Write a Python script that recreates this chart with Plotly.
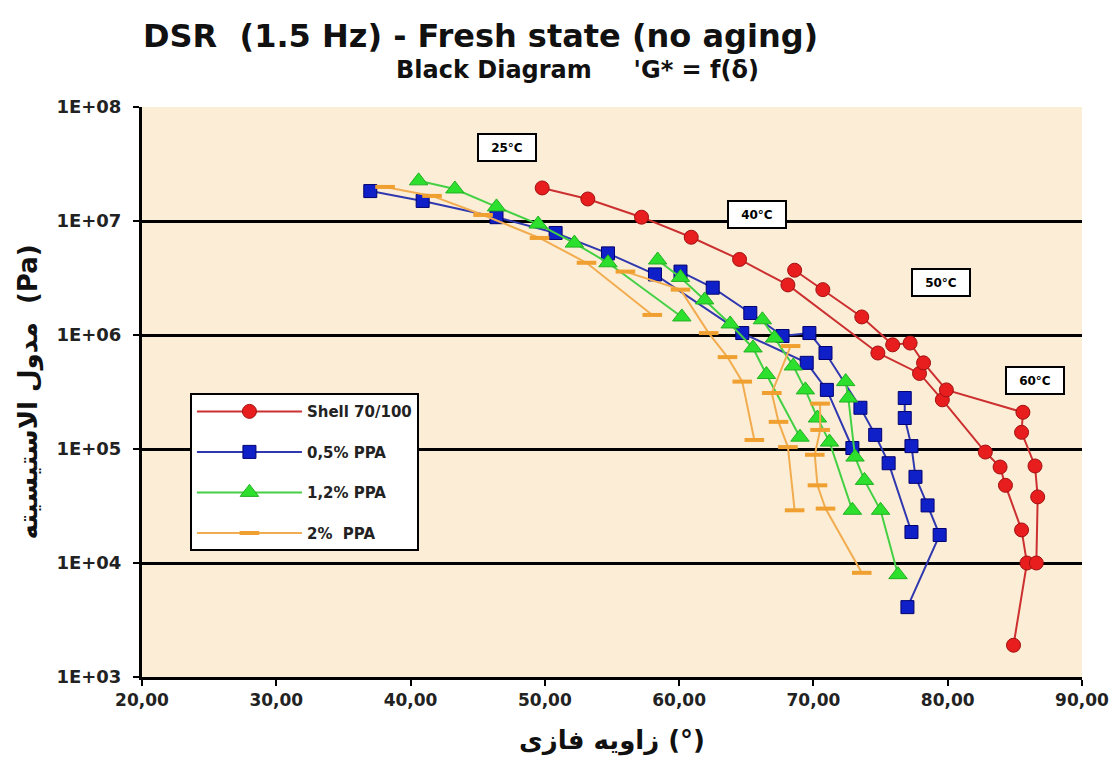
import math
import plotly.graph_objects as go

# Black diagram: phase angle (deg) vs complex modulus |G*| (Pa), one list per temperature branch
shell_phase = [
    [49.8, 53.2, 57.2, 60.9, 64.5, 68.1, 74.8, 77.9, 79.6, 82.8, 83.9, 84.3, 85.5, 85.9, 84.9],
    [68.6, 70.7, 73.6, 75.9, 77.2, 78.2, 79.9, 85.6, 85.5, 86.5, 86.7, 86.6],
]
shell_mod = [
    [1.95e7, 1.56e7, 1.08e7, 7.2e6, 4.6e6, 2.75e6, 6.95e5, 4.6e5, 2.7e5, 9.4e4, 6.95e4, 4.8e4, 1.95e4, 1.0e4, 1.9e3],
    [3.7e6, 2.5e6, 1.44e6, 8.2e5, 8.5e5, 5.7e5, 3.3e5, 2.1e5, 1.4e5, 7.1e4, 3.8e4, 1.0e4],
]

ppa05_phase = [
    [37.0, 40.9, 46.4, 50.8, 54.7, 58.2, 64.7, 69.5, 71.0, 72.9],
    [60.1, 62.5, 65.3, 67.7, 69.7, 70.9, 73.5, 74.6, 75.6, 77.3],
    [76.8, 76.8, 77.3, 77.6, 78.5, 79.4, 77.0],
]
ppa05_mod = [
    [1.83e7, 1.5e7, 1.08e7, 7.85e6, 5.2e6, 3.4e6, 1.04e6, 5.7e5, 3.3e5, 1.02e5],
    [3.6e6, 2.6e6, 1.56e6, 9.8e5, 1.04e6, 6.95e5, 2.3e5, 1.33e5, 7.5e4, 1.87e4],
    [2.8e5, 1.87e5, 1.06e5, 5.7e4, 3.2e4, 1.76e4, 4.1e3],
]

ppa12_phase = [
    [40.6, 43.3, 46.4, 49.5, 52.2, 54.7, 60.2],
    [58.4, 60.1, 61.9, 63.8, 65.5, 66.5, 69.0],
    [66.2, 67.1, 68.5, 69.4, 70.3, 71.2, 72.9],
    [72.4, 72.6, 73.1, 73.8, 75.0, 76.3],
]
ppa12_mod = [
    [2.25e7, 1.91e7, 1.33e7, 9.4e6, 6.4e6, 4.3e6, 1.44e6],
    [4.55e6, 3.2e6, 2.03e6, 1.25e6, 7.7e5, 4.5e5, 1.27e5],
    [1.36e6, 9.4e5, 5.35e5, 3.3e5, 1.87e5, 1.15e5, 2.9e4],
    [3.9e5, 2.8e5, 8.5e4, 5.3e4, 2.9e4, 7.9e3],
]

ppa2_phase = [
    [38.1, 41.6, 45.4, 49.6, 53.1, 58.0],
    [56.0, 60.1, 62.2, 63.6, 64.7, 65.6],
    [68.3, 66.9, 67.4, 68.1, 68.6],
    [70.5, 70.5, 70.1, 70.3, 70.9, 73.6],
]
ppa2_mod = [
    [1.99e7, 1.66e7, 1.13e7, 7.1e6, 4.3e6, 1.5e6],
    [3.6e6, 2.5e6, 1.04e6, 6.4e5, 3.9e5, 1.2e5],
    [8.0e5, 3.1e5, 1.73e5, 1.04e5, 2.9e4],
    [2.5e5, 1.47e5, 8.9e4, 4.8e4, 3.0e4, 8.2e3],
]

series_names = ["Shell 70/100", "0,5% PPA", "1,2% PPA", "2%  PPA"]

# Temperature labels placed on the diagram
temp_labels = ["25°C", "40°C", "50°C", "60°C"]
temp_phase = [47.2, 65.8, 79.5, 86.5]
temp_mod = [4.45e7, 1.13e7, 2.9e6, 4.0e5]

y_ticks = [1e3, 1e4, 1e5, 1e6, 1e7, 1e8]
y_ticktext = ["1E+03", "1E+04", "1E+05", "1E+06", "1E+07", "1E+08"]


def join_branches(branches):
    out = []
    for i, b in enumerate(branches):
        if i:
            out.append(None)
        out.extend(b)
    return out


styles = [
    dict(line=dict(color="#CC3030", width=2),
         marker=dict(symbol="circle", size=14, color="#E81E1E", line=dict(color="#A01010", width=1))),
    dict(line=dict(color="#3038B0", width=2),
         marker=dict(symbol="square", size=13, color="#1020C8", line=dict(color="#000070", width=1))),
    dict(line=dict(color="#44D044", width=2),
         marker=dict(symbol="triangle-up", size=16, color="#2EE02E", line=dict(color="#22B022", width=1))),
    dict(line=dict(color="#F2AC50", width=2),
         marker=dict(symbol="line-ew", size=14, color="#F0A030", line=dict(color="#F0A030", width=4))),
]

data = [
    (shell_phase, shell_mod),
    (ppa05_phase, ppa05_mod),
    (ppa12_phase, ppa12_mod),
    (ppa2_phase, ppa2_mod),
]

FONT = "DejaVu Sans"
BOLD = dict(family=FONT, weight="bold")

fig = go.Figure()
for i, ((px, py), name, st) in enumerate(zip(data, series_names, styles)):
    fig.add_trace(go.Scatter(
        x=join_branches(px), y=join_branches(py),
        mode="lines+markers", name=name, legendgroup=f"g{i}",
        connectgaps=False, line=st["line"], marker=st["marker"],
    ))

# Annotations on a log axis take log10 positions
for t, xv, yv in zip(temp_labels, temp_phase, temp_mod):
    fig.add_annotation(
        x=xv, y=math.log10(yv), xref="x", yref="y", yanchor="middle", text=t, showarrow=False,
        font=dict(**BOLD, size=12, color="black"),
        bgcolor="white", bordercolor="black", borderwidth=2,
        width=54, height=23,
    )

fig.add_annotation(
    x=0.36, y=1.0, xref="paper", yref="paper", yanchor="bottom", yshift=50,
    text="DSR  (1.5 Hz) - Fresh state (no aging)", showarrow=False,
    font=dict(**BOLD, size=32, color="#111"),
)
fig.add_annotation(
    x=0.463, y=1.0, xref="paper", yref="paper", yanchor="bottom", yshift=21,
    text="Black Diagram     'G* = f(δ)", showarrow=False,
    font=dict(**BOLD, size=24, color="#111"),
)

fig.update_layout(
    width=1113, height=778,
    margin=dict(l=142, r=31, t=107, b=101),
    paper_bgcolor="white", plot_bgcolor="#FCEED6",
    separators=",.",
    font=dict(family=FONT, color="#111"),
    showlegend=True,
    legend=dict(
        x=0.051, y=0.498, xanchor="left", yanchor="top",
        bgcolor="white", bordercolor="black", borderwidth=2,
        font=dict(**BOLD, size=15, color="#222"),
        tracegroupgap=18, itemwidth=105,
    ),
    xaxis=dict(
        range=[20, 90], dtick=10, tickformat=".2f", showgrid=False, zeroline=False,
        showline=True, linecolor="black", linewidth=3, automargin=False,
        ticks="outside", ticklen=6, tickwidth=2, tickcolor="black",
        tickfont=dict(**BOLD, size=17, color="#222"),
        title=dict(text="زاویه فازی (°)", font=dict(**BOLD, size=26, color="#111"), standoff=22),
    ),
    yaxis=dict(
        type="log", range=[3, 8], tickvals=y_ticks, ticktext=y_ticktext,
        showgrid=True, gridcolor="black", gridwidth=3, zeroline=False, automargin=False,
        showline=True, linecolor="black", linewidth=3,
        ticks="outside", ticklen=6, tickwidth=2, tickcolor="black", ticklabelstandoff=8,
        tickfont=dict(**BOLD, size=18, color="#222"),
        title=dict(text="مدول الاستیسیته  (Pa)", font=dict(**BOLD, size=26, color="#111"), standoff=12),
    ),
)

fig.write_html("out.html")
